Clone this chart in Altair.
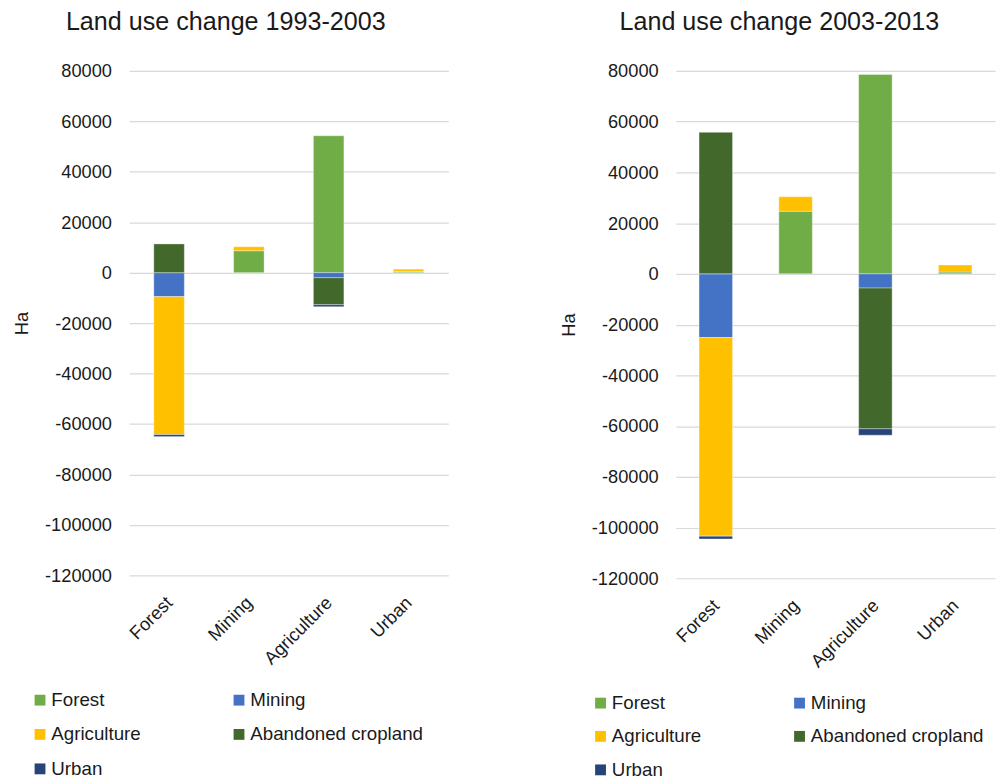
import altair as alt
import pandas as pd

categories = ["Forest", "Mining", "Agriculture", "Urban"]
series = ["Forest", "Mining", "Agriculture", "Abandoned cropland", "Urban"]
colors = ["#70AD47", "#4472C4", "#FFC000", "#43682B", "#264478"]

# 1993-2003: value of each series for categories Forest, Mining, Agriculture, Urban
p1_forest = [0, 8700, 54300, 400]
p1_mining = [-9500, 0, -2000, 0]
p1_agriculture = [-54700, 1600, 0, 1000]
p1_abandoned = [11400, 0, -10700, 0]
p1_urban = [-800, 0, -800, 0]

# 2003-2013
p2_forest = [0, 24700, 78600, 700]
p2_mining = [-25100, 0, -5600, 0]
p2_agriculture = [-78300, 5700, 0, 2800]
p2_abandoned = [55800, 0, -55500, 0]
p2_urban = [-1100, 0, -2500, 0]

tick_values = [80000, 60000, 40000, 20000, 0, -20000, -40000, -60000, -80000, -100000, -120000]

FONT = "Liberation Sans"
TXT = "#1a1a1a"


def build_df(vals):
    rows = []
    for si, s in enumerate(series):
        for ci, c in enumerate(categories):
            v = vals[si][ci]
            if v != 0:
                rows.append({"category": c, "series": s, "ord": si, "value": v})
    return pd.DataFrame(rows)


def panel(vals, title, height, bar_size, legend_x, legend_y, row_pad, title_dx):
    df = build_df(vals)
    return alt.Chart(df).mark_bar(size=bar_size, stroke="#ffffff", strokeWidth=0.6, strokeOpacity=0.6).encode(
        x=alt.X("category:N", sort=categories, title=None,
                axis=alt.Axis(labelAngle=-45, labelFontSize=18.5, labelFont=FONT, labelColor=TXT,
                              domain=False, ticks=False, labelPadding=18, labelOffset=-6, grid=False)),
        y=alt.Y("value:Q", stack="zero", scale=alt.Scale(domain=[-120000, 80000], nice=False, padding=0),
                axis=alt.Axis(values=tick_values, labelExpr="'' + datum.value", title="Ha",
                              titleFont=FONT, titleFontSize=18.5, titleFontWeight="normal", titleColor=TXT,
                              titlePadding=13, labelFontSize=18.5, labelFont=FONT, labelColor=TXT,
                              labelPadding=18, domain=False, ticks=False, gridColor="#d9d9d9", gridWidth=1.2)),
        color=alt.Color("series:N", scale=alt.Scale(domain=series, range=colors),
                        legend=alt.Legend(title=None, orient="none", legendX=legend_x, legendY=legend_y,
                                          direction="horizontal", columns=2, columnPadding=90, rowPadding=row_pad,
                                          symbolType="square", symbolSize=121, symbolStrokeWidth=0,
                                          labelFont=FONT, labelFontSize=19, labelColor=TXT,
                                          labelOffset=2, labelLimit=400)),
        order=alt.Order("ord:Q"),
    ).properties(
        width=324, height=height,
        title=alt.TitleParams(title, fontSize=25.5, font=FONT, fontWeight="normal", color=TXT,
                              anchor="middle", frame="bounds", offset=27, dx=title_dx),
    )


left = panel([p1_forest, p1_mining, p1_agriculture, p1_abandoned, p1_urban],
             "Land use change 1993-2003", 512, 31, -100, 629, 15, -5)
right = panel([p2_forest, p2_mining, p2_agriculture, p2_abandoned, p2_urban],
              "Land use change 2003-2013", 515, 34, -86, 632, 14, 2)

chart = alt.hconcat(left, right, spacing=113).resolve_scale(color="independent").configure_view(
    stroke=None).properties(padding={"left": 5, "top": -4, "right": 5, "bottom": 0})

chart.save("out.html", embed_options={"renderer": "svg", "actions": False})
